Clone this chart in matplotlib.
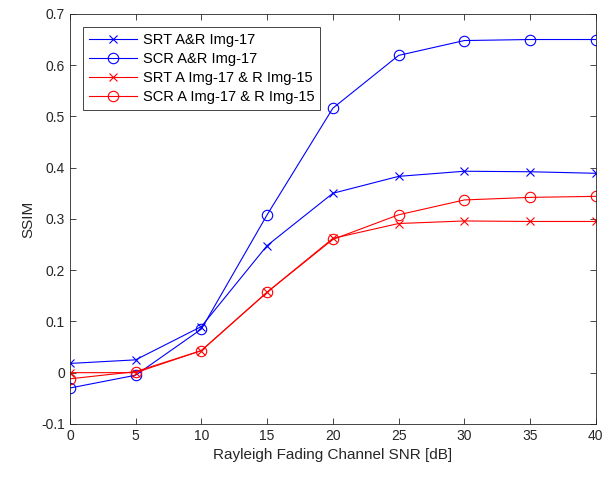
import matplotlib
matplotlib.use("Agg")
import matplotlib.pyplot as plt

plt.rcParams['font.family'] = ['Liberation Sans', 'DejaVu Sans']

snr = [0, 5, 10, 15, 20, 25, 30, 35, 40]
srt_ar17 = [0.018, 0.025, 0.090, 0.248, 0.350, 0.383, 0.393, 0.392, 0.389]
scr_ar17 = [-0.030, -0.005, 0.085, 0.308, 0.516, 0.619, 0.648, 0.650, 0.650]
srt_a17_r15 = [0.000, 0.000, 0.043, 0.157, 0.262, 0.291, 0.296, 0.295, 0.295]
scr_a17_r15 = [-0.012, 0.002, 0.043, 0.157, 0.260, 0.308, 0.337, 0.342, 0.344]

fig = plt.figure(figsize=(6.13, 4.79), dpi=100)
ax = fig.add_axes([0.114, 0.115, 0.858, 0.856])

ax.plot(snr, srt_ar17, color='blue', marker='x', lw=0.8, ms=6, mew=0.8,
        label='SRT A&R Img-17')
ax.plot(snr, scr_ar17, color='blue', marker='o', mfc='none', lw=0.8, ms=7.5, mew=0.8,
        label='SCR A&R Img-17')
ax.plot(snr, srt_a17_r15, color='red', marker='x', lw=0.8, ms=6, mew=0.8,
        label='SRT A Img-17 & R Img-15')
ax.plot(snr, scr_a17_r15, color='red', marker='o', mfc='none', lw=0.8, ms=7.5, mew=0.8,
        label='SCR A Img-17 & R Img-15')

ax.set_xlim(0, 40)
ax.set_ylim(-0.1, 0.7)
ax.set_xticks(range(0, 41, 5))
ax.set_yticks([-0.1, 0, 0.1, 0.2, 0.3, 0.4, 0.5, 0.6, 0.7])
ax.set_yticklabels(['-0.1', '0', '0.1', '0.2', '0.3', '0.4', '0.5', '0.6', '0.7'])
ax.set_xlabel('Rayleigh Fading Channel SNR [dB]', fontsize=11, color='#262626')
ax.set_ylabel('SSIM', fontsize=11, color='#262626')
ax.tick_params(direction='in', top=True, right=True, labelsize=10,
               colors='#262626', length=4, width=0.6)
for s in ax.spines.values():
    s.set_color('#262626')
    s.set_linewidth(0.6)

leg = ax.legend(loc='upper left', fontsize=10.5, fancybox=False, framealpha=1,
                edgecolor='#262626', borderaxespad=0.9, handlelength=3.3,
                handletextpad=0.4, labelspacing=0.35, borderpad=0.4)
leg.get_frame().set_linewidth(0.6)

fig.savefig('out.png', dpi=100)
